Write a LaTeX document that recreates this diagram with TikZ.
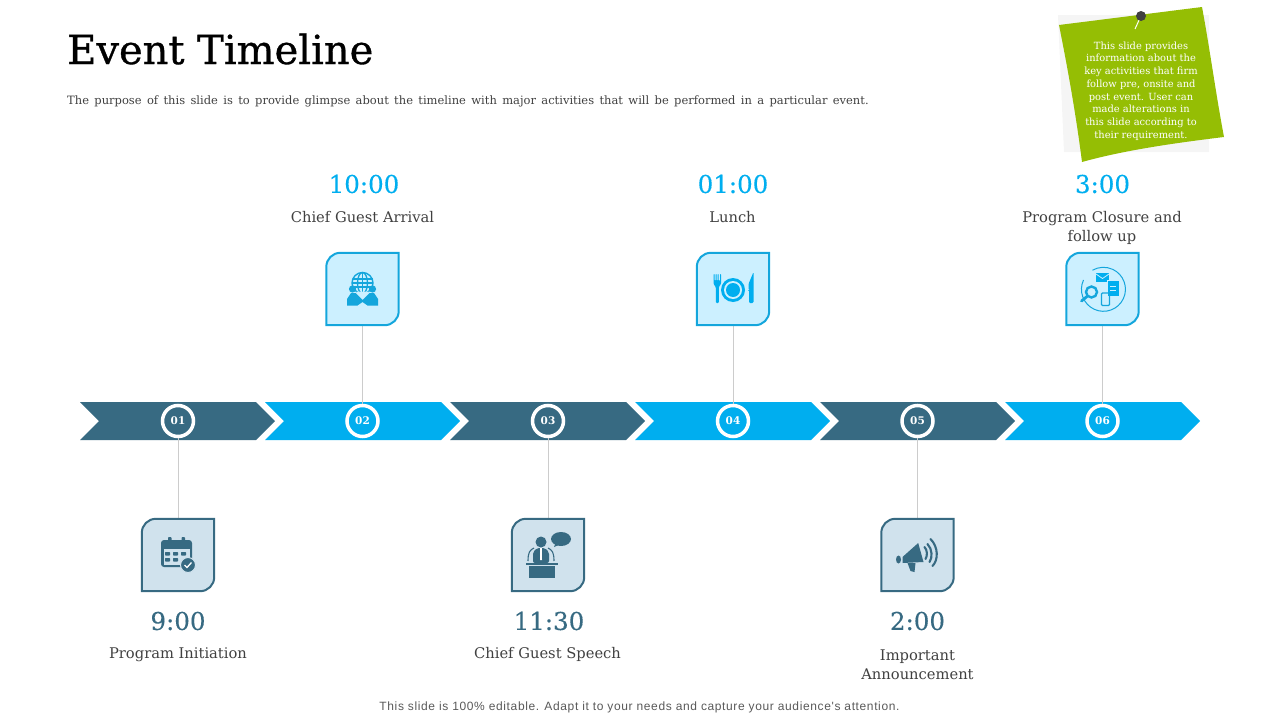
\documentclass[tikz,border=0pt]{standalone}
\usepackage{fontspec}
\usepackage{xcolor}
\setmainfont{DejaVu Serif}
\newfontfamily\headfont[FakeBold=0.8]{DejaVu Serif}
\newfontfamily\timefont[FakeBold=0.3]{DejaVu Serif}
\newfontfamily\footfont[LetterSpace=5.2]{Liberation Sans}
\definecolor{navy}{HTML}{376A82}
\definecolor{sky}{HTML}{00AEEF}
\definecolor{skyline}{HTML}{14A6DC}
\definecolor{navylite}{HTML}{D0E2ED}
\definecolor{skylite}{HTML}{CCF0FF}
\definecolor{leaf}{HTML}{95BE04}
\definecolor{ink}{HTML}{404040}
\tikzset{
  darrow/.style={fill=navy},
  barrow/.style={fill=sky},
  num/.style={circle, draw=white, line width=3.5pt, minimum size=31pt, inner sep=0pt, text=white, font=\bfseries\fontsize{10.5}{13}\selectfont},
  iconbox/.style={minimum size=72pt, inner sep=0pt},
  timetext/.style={font=\timefont\fontsize{24.5}{30}\selectfont},
  lbl/.style={text=ink, align=center, font=\fontsize{14.7}{19}\selectfont},
  conn/.style={draw=black!20, line width=0.7pt},
  pics/globeicon/.style={code={
    \draw[skyline, line width=1.4pt] (0,-6) circle (10.5);
    \draw[skyline, line width=1.3pt] (0,-6) ellipse (5 and 10.5);
    \draw[skyline, line width=1.3pt] (-10,-10) -- (10,-10) (-10.5,-6) -- (10.5,-6) (-10,-2) -- (10,-2) (0,-16.5) -- (0,4.5);
    \fill[skyline] (-10,0) circle (3.6) (10,0) circle (3.6);
    \fill[skylite] (-6,5.5) -- (0,12) -- (6,5.5) -- (6,2.5) -- (-6,2.5) -- cycle;
    \fill[skyline] (-15.5,16.5) -- (-15.5,10) -- (-11.5,4) -- (-7,4) -- (0,11) -- (7,4) -- (11.5,4) -- (15.5,10) -- (15.5,16.5) -- (5,16.5) -- (0,13) -- (-5,16.5) -- cycle;
  }},
  pics/plateicon/.style={code={
    \fill[sky] (0,1) circle (12);
    \fill[skylite] (0,1) circle (9);
    \fill[sky] (0,1) circle (7);
    \fill[sky, rounded corners=1pt] (-19.5,-15) -- (-19.5,-5) -- (-17.2,-2) -- (-17.2,14) -- (-14.2,14) -- (-14.2,-2) -- (-12,-5) -- (-12,-15) -- (-13,-15) -- (-13,-8) -- (-14.3,-8) -- (-14.3,-15) -- (-15.3,-15) -- (-15.3,-8) -- (-16.4,-8) -- (-16.4,-15) -- (-17.4,-15) -- (-17.4,-8) -- (-18.5,-8) -- (-18.5,-15) -- cycle;
    \fill[sky, rounded corners=1.2pt] (15.5,1) -- (15.5,-5) -- (20.5,-17) -- (20.5,14) -- (16,14) -- (16,1) -- cycle;
  }},
  pics/searchicon/.style={code={
    \draw[skyline, line width=1pt] (-19,-9) arc (205:-120:22);
    \fill[sky] (-6.5,-16) -- (6.5,-16) -- (6.5,-7) -- (-6.5,-7) -- cycle;
    \draw[skylite, line width=0.8pt] (-6.5,-15) -- (0,-10.5) -- (6.5,-15);
    \fill[sky, draw=skylite, line width=0.8pt] (4.5,-9) rectangle (16.5,7);
    \draw[skylite, line width=0.8pt] (7.5,-2.5) -- (13.5,-2.5) (7.5,1) -- (13.5,1);
    \draw[skyline, line width=2.4pt] (-11,3) circle (5.5);
    \draw[skyline, line width=2.8pt, line cap=round] (-15.5,7.5) -- (-21,12);
    \draw[skyline, line width=1.1pt, rounded corners=1pt] (-1,4) rectangle (7,16.5);
  }},
  pics/calicon/.style={code={
    \fill[navy, rounded corners=3pt] (-17,-15) rectangle (14,12);
    \fill[navylite] (-14.5,-6) rectangle (11.5,9.5);
    \fill[navy, rounded corners=0.8pt] (-10,-18) rectangle (-6.5,-12) (3.5,-18) rectangle (7,-12);
    \fill[navy, rounded corners=0.6pt] (-13,-3) rectangle (-8,0.5) (-5,-3) rectangle (0,0.5) (3,-3) rectangle (8,0.5) (-13,3) rectangle (-8,6.5) (-5,3) rectangle (0,6.5);
    \fill[navy, draw=navylite, line width=1pt] (10,10) circle (7.5);
    \draw[white, line width=1.3pt] (6.5,10) -- (9,12.5) -- (13.5,7.5);
  }},
  pics/podiumicon/.style={code={
    \fill[navy] (-7,-13) circle (5.5);
    \fill[navy, rounded corners=2pt] (-15,8) -- (-15,-3) -- (-11,-7) -- (-3,-7) -- (1,-3) -- (1,8) -- cycle;
    \fill[white] (-7.8,-7) -- (-6.2,-7) -- (-6,5) -- (-8,5) -- cycle;
    \draw[navy, line width=1.1pt] (-20,6) .. controls (-20,-3) and (-18,-5) .. (-14,-7) (6,6) .. controls (6,-3) and (4,-5) .. (0,-7);
    \fill[navy] (-22,7.5) rectangle (10,10);
    \fill[navy] (-19,11) rectangle (7,23);
    \fill[navy] (13,-16) ellipse (10 and 7);
    \fill[navy] (8,-13) -- (6,-8) -- (13,-11) -- cycle;
  }},
  pics/hornicon/.style={code={
    \fill[navy] (-15,2) -- (0.7,-12) -- (6,7) -- (-15,8) -- cycle;
    \fill[navy] (-19,4.5) ellipse (2.5 and 4);
    \fill[navy] (-10,8) -- (-2,8) -- (-3,17) -- (-7,16) -- cycle;
    \draw[navy, line width=2.1pt, line cap=round] (7,-8) .. controls (10,-5) and (10,1) .. (8,4);
    \draw[navy, line width=2.1pt, line cap=round] (10,-11) .. controls (15,-6) and (15,3) .. (12,7);
    \draw[navy, line width=2.1pt, line cap=round] (13,-16) .. controls (21,-8) and (21,5) .. (15,11);
  }}
}
% box with two round corners
\newcommand{\boxedge}[3]{
  \draw[draw=#2, fill=#3, line width=2pt] (#1.north east) [rounded corners=14pt] -- (#1.north west) [sharp corners] -- (#1.south west) [rounded corners=14pt] -- (#1.south east) [sharp corners] -- cycle;
}
\begin{document}
\begin{tikzpicture}[x=1pt, y=-1pt]
\useasboundingbox (0,0) rectangle (1280,720);

% heading
\node[anchor=base west, inner sep=0pt, font=\headfont\fontsize{40}{44}\selectfont] (title) at (67,64) {Event Timeline};
\node[anchor=base west, inner sep=0pt, text=ink, font=\fontsize{11.5}{14}\selectfont\spaceskip 5.36pt] (sub) at (67,104) {The purpose of this slide is to provide glimpse about the timeline with major activities that will be performed in a particular event.};

% note
\fill[black!4] (1058,15) -- (1209,15) -- (1209,152) -- (1064,152) -- cycle;
\fill[leaf] (1059,25) -- (1202,7) .. controls (1210,50) and (1216,95) .. (1224,137) .. controls (1175,143) and (1125,150) .. (1082,162) .. controls (1076,115) and (1068,70) .. (1059,25) -- cycle;
\draw[white, line width=1pt] (1135,29) -- (1140,18);
\fill[black!75] (1141,16) circle (5);
\node[text=white, align=center, inner sep=0pt, font=\fontsize{9.9}{12.7}\selectfont] (note) at (1141,91) {This slide provides\\information about the\\key activities that firm\\follow pre, onsite and\\post event. User can\\made alterations in\\this slide according to\\their requirement.};

% arrows
\fill[darrow] (80,402) -- (256,402) -- (275,421) -- (256,440) -- (80,440) -- (99,421) -- cycle;
\fill[barrow] (265,402) -- (441,402) -- (460,421) -- (441,440) -- (265,440) -- (284,421) -- cycle;
\fill[darrow] (450,402) -- (626,402) -- (645,421) -- (626,440) -- (450,440) -- (469,421) -- cycle;
\fill[barrow] (635,402) -- (811,402) -- (830,421) -- (811,440) -- (635,440) -- (654,421) -- cycle;
\fill[darrow] (820,402) -- (996,402) -- (1015,421) -- (996,440) -- (820,440) -- (839,421) -- cycle;
\fill[barrow] (1005,402) -- (1181,402) -- (1200,421) -- (1181,440) -- (1005,440) -- (1024,421) -- cycle;

\node[num] (n1) at (178,421) {01};
\node[num] (n2) at (362.5,421) {02};
\node[num] (n3) at (548,421) {03};
\node[num] (n4) at (733,421) {04};
\node[num] (n5) at (917.5,421) {05};
\node[num] (n6) at (1102.5,421) {06};

% icon boxes
\node[iconbox] (b1) at (178,555) {};
\node[iconbox] (b2) at (362.5,289) {};
\node[iconbox] (b3) at (548,555) {};
\node[iconbox] (b4) at (733,289) {};
\node[iconbox] (b5) at (917.5,555) {};
\node[iconbox] (b6) at (1102.5,289) {};

\draw[conn] (n1) -- (b1);
\draw[conn] (n2) -- (b2);
\draw[conn] (n3) -- (b3);
\draw[conn] (n4) -- (b4);
\draw[conn] (n5) -- (b5);
\draw[conn] (n6) -- (b6);

\boxedge{b1}{navy}{navylite}
\boxedge{b2}{skyline}{skylite}
\boxedge{b3}{navy}{navylite}
\boxedge{b4}{skyline}{skylite}
\boxedge{b5}{navy}{navylite}
\boxedge{b6}{skyline}{skylite}

\pic at (b1) {calicon};
\pic at (b2) {globeicon};
\pic at (b3) {podiumicon};
\pic at (b4) {plateicon};
\pic at (b5) {hornicon};
\pic at (b6) {searchicon};

% times
\node[timetext, text=navy] (t1) at (178,621) {9:00};
\node[timetext, text=sky] (t2) at (364,184) {10:00};
\node[timetext, text=navy] (t3) at (549,621) {11:30};
\node[timetext, text=sky] (t4) at (733,184) {01:00};
\node[timetext, text=navy] (t5) at (917.5,621) {2:00};
\node[timetext, text=sky] (t6) at (1102.5,184) {3:00};

% labels
\node[lbl] (l1) at (178,655) {Program Initiation};
\node[lbl] (l2) at (362.5,217) {Chief Guest Arrival};
\node[lbl] (l3) at (547.5,654) {Chief Guest Speech};
\node[lbl] (l4) at (732.5,217) {Lunch};
\node[lbl] (l5) at (917.5,665) {Important\\Announcement};
\node[lbl] (l6) at (1102,227.5) {Program Closure and\\follow up};

\node[text=black!65, inner sep=0pt, font=\footfont\fontsize{12}{14}\selectfont] (foot) at (639.5,707) {This slide is 100\% editable. Adapt it to your needs and capture your audience's attention.};
\end{tikzpicture}
\end{document}
